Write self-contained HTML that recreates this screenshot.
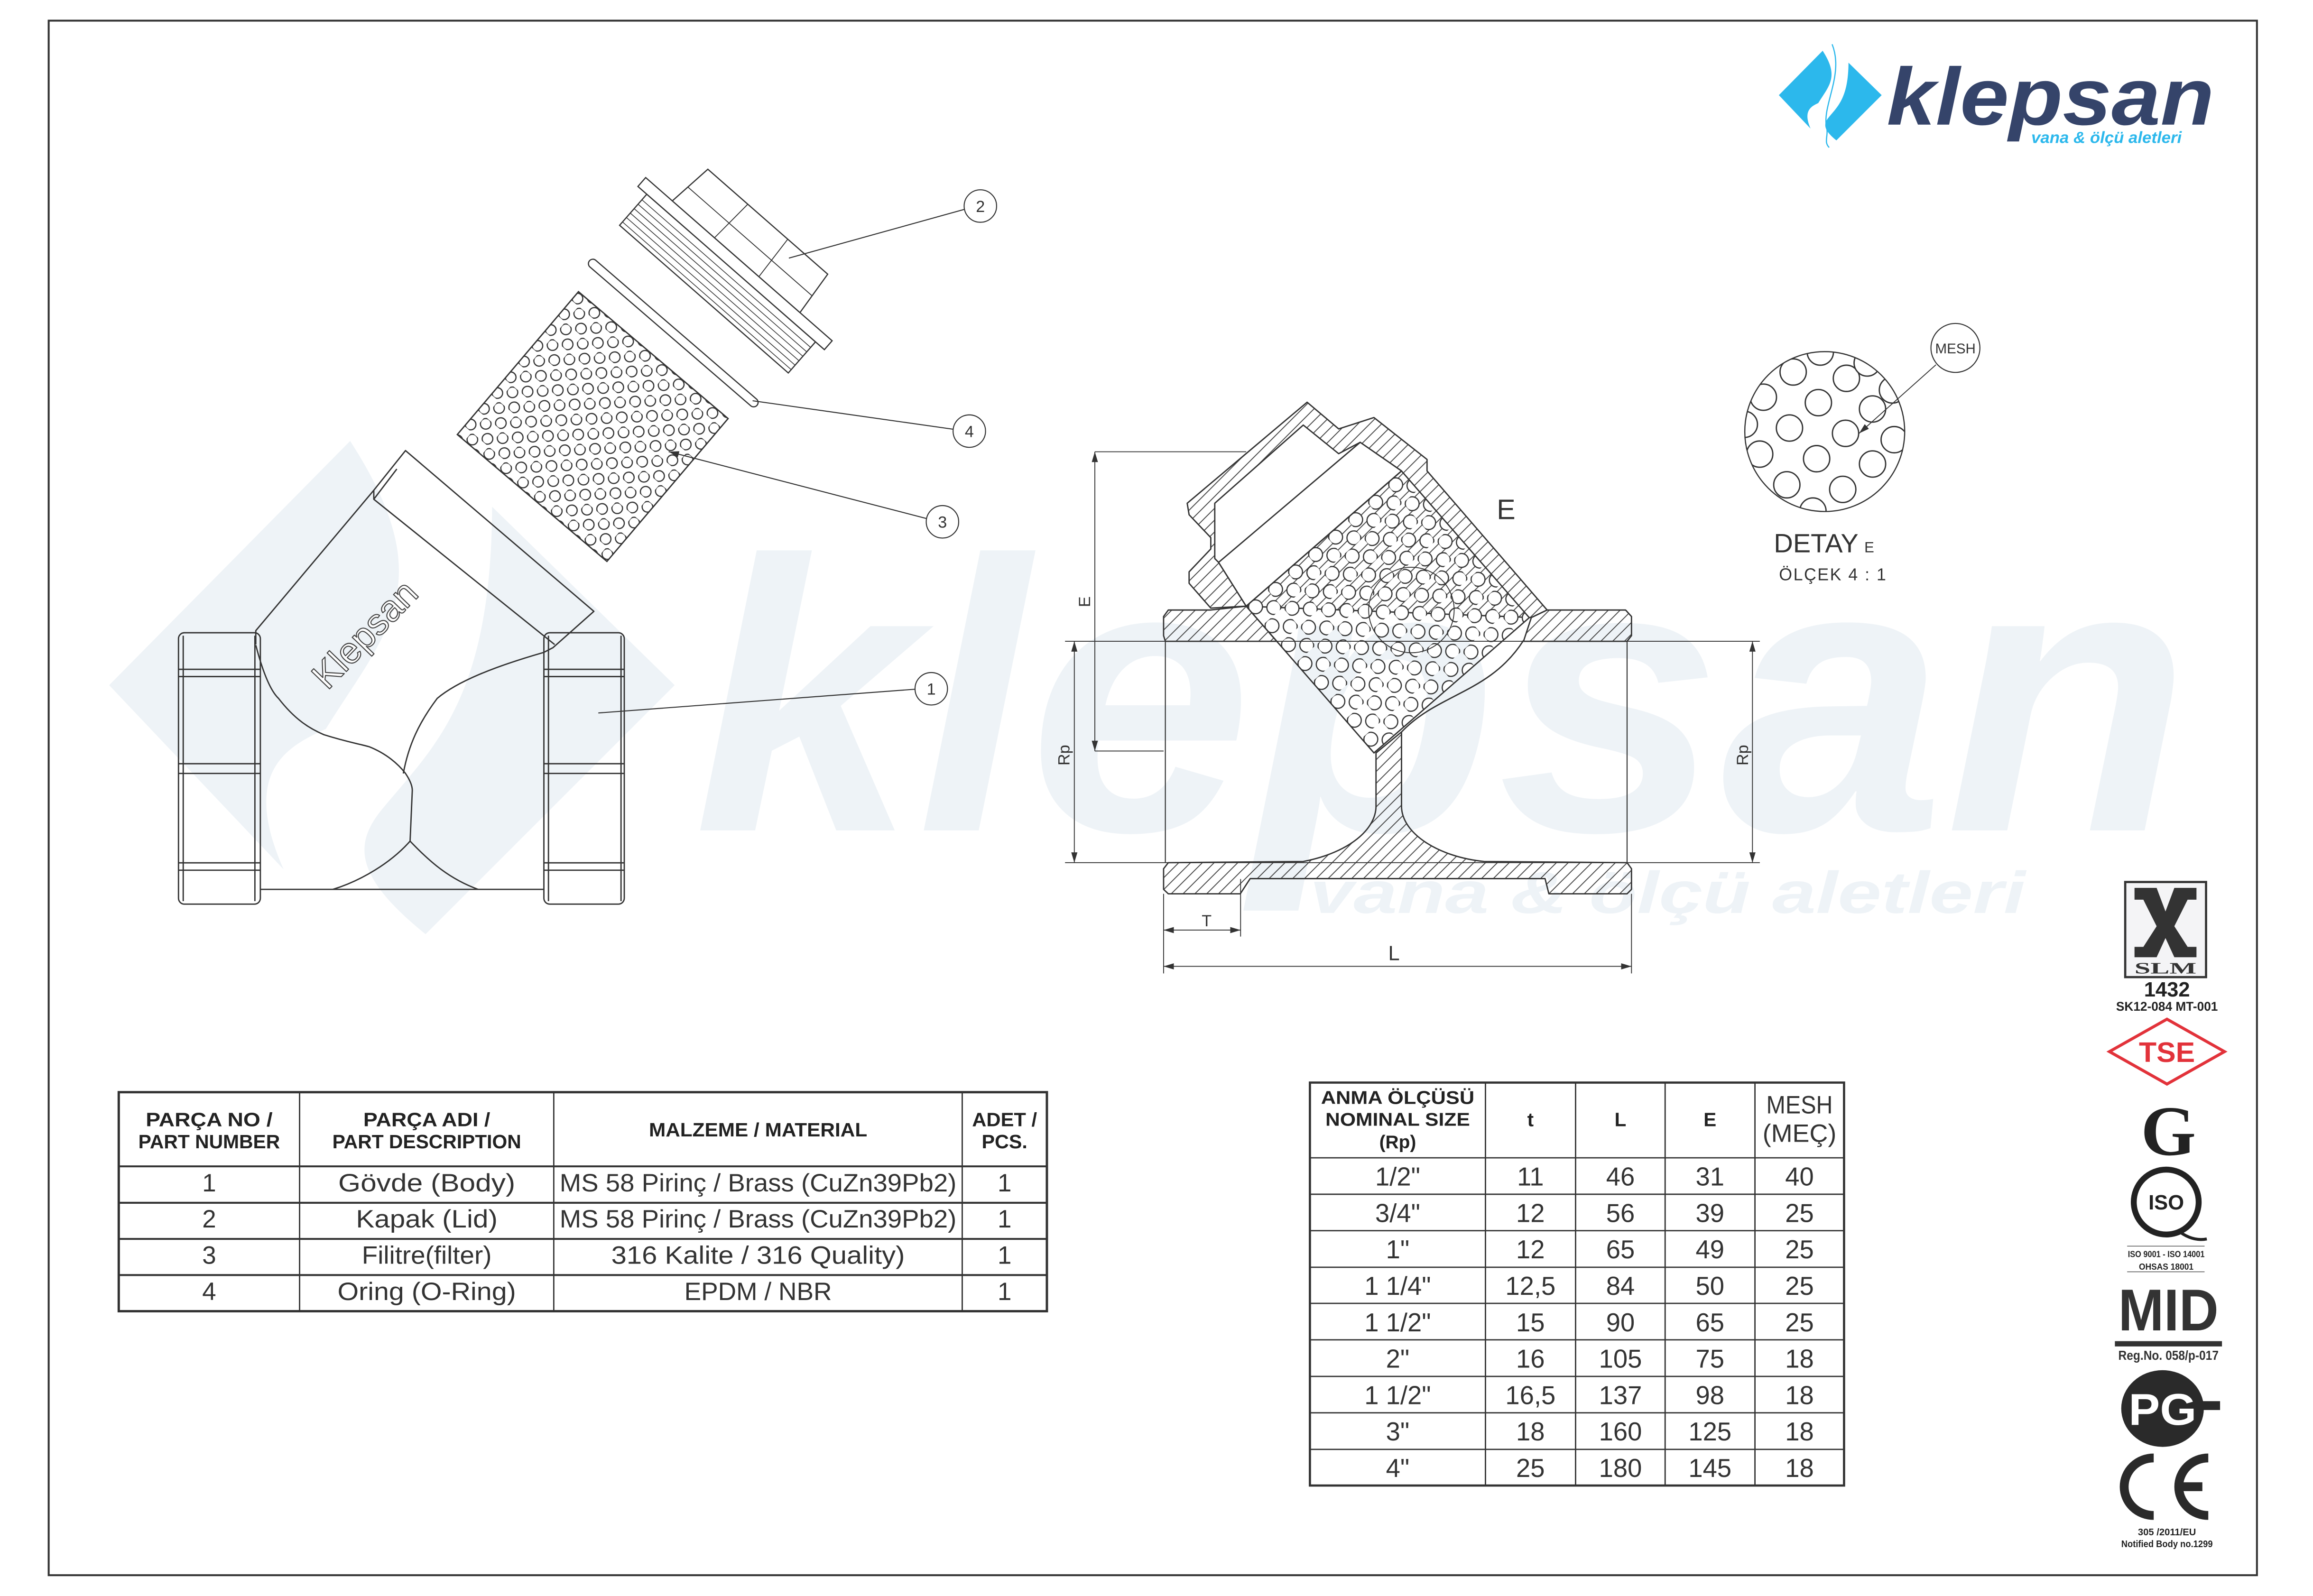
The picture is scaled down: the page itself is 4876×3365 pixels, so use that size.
<!DOCTYPE html>
<html><head><meta charset="utf-8"><style>html,body{margin:0;padding:0;background:#fff}svg{display:block}</style></head>
<body>
<svg xmlns="http://www.w3.org/2000/svg" width="4876" height="3365" viewBox="0 0 1568 1082.1" font-family="Liberation Sans, sans-serif">
<defs>
<pattern id="hatch" patternUnits="userSpaceOnUse" width="8" height="8"><path d="M0,8 L8,0 M-2,2 L2,-2 M6,10 L10,6" stroke="#444" stroke-width="0.6"/></pattern>
<pattern id="holesA" patternUnits="userSpaceOnUse" width="15" height="14"><circle cx="3.5" cy="3.5" r="3.6" fill="#fff" stroke="#333" stroke-width="0.8"/><circle cx="11" cy="10.5" r="3.6" fill="#fff" stroke="#333" stroke-width="0.8"/></pattern>
<pattern id="holesB" patternUnits="userSpaceOnUse" width="18" height="17"><circle cx="4.5" cy="4.5" r="4.7" fill="#fff" stroke="#333" stroke-width="0.8"/><circle cx="13.5" cy="13" r="4.7" fill="#fff" stroke="#333" stroke-width="0.8"/></pattern>
<marker id="ar" viewBox="0 0 10 10" refX="10" refY="5" markerWidth="7" markerHeight="7" orient="auto-start-reverse" markerUnits="userSpaceOnUse"><path d="M0,2 L10,5 L0,8 Z" fill="#333"/></marker>
<clipPath id="dc"><circle cx="1237" cy="292.6" r="54.2"/></clipPath>
<g id="dia">
<path d="M1235.6,34.4 L1205.9,64.5 L1227.4,87.2 C1222,75 1228,72 1232.6,69.9 C1240,58 1247,52 1235.6,34.4 Z"/>
<path d="M1253.1,42.5 L1275.6,64.5 L1244.9,95.2 C1236,88 1236,84 1239.7,79.6 C1246,72 1253,66 1253.1,42.5 Z"/>
</g>
</defs>
<rect width="1568" height="1082.1" fill="#fff"/>

<!-- watermark -->
<g fill="#eef3f7">
<use href="#dia" transform="translate(74,299) scale(5.5) translate(-1205.9,-34.4)"/>
<text x="470" y="563" font-size="262" font-weight="bold" font-style="italic" textLength="1015" lengthAdjust="spacingAndGlyphs">klepsan</text>
<text x="888" y="619" font-size="40" font-weight="bold" font-style="italic" textLength="485" lengthAdjust="spacingAndGlyphs">vana &amp; ölçü aletleri</text>
</g>

<!-- border -->
<rect x="33" y="14" width="1497" height="1054" fill="none" stroke="#333" stroke-width="1.3"/>

<!-- logo -->
<use href="#dia" fill="#2cb8ec"/>
<path d="M1242,30 C1250,50 1236,70 1238,85 C1240,92 1236,96 1240,100" fill="none" stroke="#2cb8ec" stroke-width="0.8"/>
<text x="1279" y="84.5" font-size="55" font-weight="bold" font-style="italic" fill="#35446a" textLength="222" lengthAdjust="spacingAndGlyphs">klepsan</text>
<text x="1377" y="97" font-size="11" font-weight="bold" font-style="italic" fill="#2cb8ec" textLength="102" lengthAdjust="spacingAndGlyphs">vana &amp; ölçü aletleri</text>

<!-- ================= LEFT EXPLODED VIEW ================= -->
<g fill="none" stroke="#333" stroke-width="0.9" stroke-linejoin="round">
<rect x="121" y="429" width="55.5" height="184" rx="4"/>
<path d="M124.2,431 V611 M172.8,431 V611 M121,453.8 H176.5 M121,458.7 H176.5 M121,517.8 H176.5 M121,524.4 H176.5 M121,585 H176.5 M121,590 H176.5"/>
<rect x="368.7" y="429" width="54.5" height="184" rx="4"/>
<path d="M371.8,431 V611 M421,431 V611 M368.7,453.8 H423.2 M368.7,458.7 H423.2 M368.7,517.8 H423.2 M368.7,524.4 H423.2 M368.7,585 H423.2 M368.7,590 H423.2"/>
<path d="M176.5,603 H368.7"/>
<path d="M173.4,437 L173.4,427.6 L253.4,332.4 L274.9,305.5 L402.6,414.5 L374.9,439.1 L368.7,442.3"/>
<path d="M253.4,332.4 L253.4,338.5 L376,437 M253.4,338.5 L269,318"/>
<path d="M173.4,437.4 C178,455 183,468 188.8,473.5 C200,488 210,494 219.5,498.1 C235,503 242,504 250.3,506.3 C262,511 270,518 274.9,524.4 C278,529 279.5,533 279.5,535.9 L278,570.3 C265,585 245,597 225.7,603"/>
<path d="M278,570.3 C292,585 305,596 324.1,603"/>
<path d="M368.7,442.3 C335,452 310,462 296.4,473.5 C284,490 277,505 273.4,524.4"/>
<text x="0" y="0" font-size="25" fill="#fff" stroke="#444" stroke-width="0.7" transform="translate(253.4,436) rotate(-46)" text-anchor="middle">Klepsan</text>
</g>
<g transform="translate(401.8,289.2) rotate(40.3)">
<rect x="-66.5" y="-63.5" width="133" height="127" fill="url(#holesA)" stroke="#333" stroke-width="0.9"/>
</g>
<g transform="translate(456.4,225.8) rotate(40.8)">
<rect x="-75" y="-3" width="150" height="6" rx="3" fill="#fff" stroke="#333" stroke-width="0.8"/>
</g>
<g transform="translate(477.2,202.8) rotate(41.2)" fill="#fff" stroke="#333" stroke-width="0.8">
<rect x="-76" y="-28" width="152" height="28"/>
<path d="M-76,-23 H76 M-76,-19 H76 M-76,-15 H76 M-76,-11 H76 M-76,-7 H76 M-76,-3 H76" fill="none" stroke-width="0.5"/>
<rect x="-84" y="-36" width="168" height="8"/>
<path d="M-60,-36 L-56,-68 H52 L55,-36 Z"/>
<path d="M-22,-36 L-20,-68 M18,-36 L16,-68 M-58,-50 H54" fill="none" stroke-width="0.6"/>
</g>
<g fill="none" stroke="#333" stroke-width="0.7">
<path d="M534.8,175 L653.6,142"/>
<path d="M510.2,271.7 L646,291"/>
<path d="M453.3,306.2 L627.8,351.5" marker-start="url(#ar)"/>
<path d="M405.6,483.4 L620.3,467.3"/>
<circle cx="664.6" cy="139.7" r="11" fill="#fff"/>
<circle cx="657.1" cy="292.3" r="11" fill="#fff"/>
<circle cx="638.9" cy="353.8" r="11" fill="#fff"/>
<circle cx="631.3" cy="467" r="11" fill="#fff"/>
</g>
<g font-size="11" fill="#333" text-anchor="middle">
<text x="664.6" y="143.7">2</text><text x="657.1" y="296.3">4</text><text x="638.9" y="357.8">3</text><text x="631.3" y="471">1</text>
</g>

<!-- ================= SECTION VIEW ================= -->
<g stroke="#333" stroke-width="0.9" stroke-linejoin="round">
<path d="M820.8,412.3 L806.1,395.5 L806.1,387.7 L820.8,372.2 L820.8,364.5 L806.1,349 L804.8,341.2 L886.1,272.7 L907.5,290.8 L931.4,283.1 L967.4,311.5 L967.4,319.3 L1048.8,413.6 L1038.1,418.7 L844.8,411 Z" fill="url(#hatch)"/>
<path d="M823.5,378.7 L823.5,341.2 L883.5,288.2 L907.5,307.6 L922.1,299.9 L950.1,319.3 L844.8,411 L826.1,381.3 Z" fill="#fff"/>
<path d="M826.1,381.3 L922.1,299.9 L950.1,319.3 L844.8,411 Z" fill="#fff"/>
<path d="M788.8,418 L792,413.6 L820.8,413.6 L844.8,411 L865.5,434.8 L790,434.8 L788.8,431 Z" fill="url(#hatch)"/>
<path d="M1048.8,413.6 L1102,413.6 L1106,418 L1106,431 L1103,434.8 L1032.8,434.8 L1038.1,418.7 Z" fill="url(#hatch)"/>
<path d="M788.8,589 L792,584.9 L883.5,584.1 C915,578 932.8,562 932.8,546.6 L932.8,510.5 L950.1,496.3 L950.1,546.6 C950.1,565 975,581 1006.1,584.1 L1103,584.9 L1106,589 L1106,603 L1103,606 L1050,606 L1047.4,595.7 L847.5,595.7 L840.8,606 L792,606 L788.8,603 Z" fill="url(#hatch)"/>
<g transform="translate(844.8,411) rotate(-41.05)">
<rect x="0" y="0" width="139.6" height="131.9" fill="url(#holesB)"/>
</g>
<path d="M1032.8,434.2 C1010,470 975,470 950.1,496.3" fill="none"/>
<circle cx="956.8" cy="413.6" r="29" fill="none" stroke-width="0.6"/>
<path d="M790,434.8 V584.9 M1103,434.8 V584.9" fill="none" stroke-width="0.7"/>
</g>
<g fill="none" stroke="#333" stroke-width="0.6">
<path d="M742.2,306.3 H844.8 M742.2,509.2 H788.8"/>
<path d="M742.2,306.3 V509.2" marker-start="url(#ar)" marker-end="url(#ar)"/>
<path d="M722,434.8 H1193 M722,584.9 H1193"/>
<path d="M728.3,434.8 V584.9" marker-start="url(#ar)" marker-end="url(#ar)"/>
<path d="M1188,434.8 V584.9" marker-start="url(#ar)" marker-end="url(#ar)"/>
<path d="M788.8,606 V660 M1106,606 V660 M841,596 V635"/>
<path d="M788.8,630.6 H841" marker-start="url(#ar)" marker-end="url(#ar)"/>
<path d="M788.8,655.2 H1106" marker-start="url(#ar)" marker-end="url(#ar)"/>
</g>
<g fill="#333" font-size="11">
<text x="0" y="0" transform="translate(739,408) rotate(-90)" text-anchor="middle">E</text>
<text x="0" y="0" transform="translate(725,512) rotate(-90)" text-anchor="middle">Rp</text>
<text x="0" y="0" transform="translate(1185,512) rotate(-90)" text-anchor="middle">Rp</text>
<text x="818" y="628" text-anchor="middle">T</text>
<text x="945" y="651" font-size="14" text-anchor="middle">L</text>
<text x="1021" y="352" font-size="19" text-anchor="middle">E</text>
</g>

<!-- ================= DETAIL ================= -->
<g clip-path="url(#dc)" fill="#fff" stroke="#333" stroke-width="0.9">
<g transform="translate(1237,292.6)">
<circle cx="-41.6" cy="-23.3" r="8.9"/><circle cx="-21.4" cy="-40.4" r="8.9"/><circle cx="14.7" cy="-36.1" r="8.9"/>
<circle cx="-4.3" cy="-19.6" r="8.9"/><circle cx="32.4" cy="-15.3" r="8.9"/><circle cx="-23.9" cy="-2.4" r="8.9"/>
<circle cx="14.1" cy="1.2" r="8.9"/><circle cx="-44.1" cy="15.3" r="8.9"/><circle cx="-5.5" cy="18.4" r="8.9"/>
<circle cx="32.4" cy="22" r="8.9"/><circle cx="-25.7" cy="36.1" r="8.9"/><circle cx="12.2" cy="39.2" r="8.9"/>
<circle cx="47.1" cy="5.5" r="8.9"/><circle cx="-3" cy="-53.9" r="8.9"/><circle cx="28.8" cy="-46.5" r="8.9"/>
<circle cx="45.9" cy="-28.2" r="8.9"/><circle cx="-8" cy="53.9" r="8.9"/><circle cx="-54.5" cy="-4.9" r="8.9"/>
</g>
</g>
<circle cx="1237" cy="292.6" r="54.2" fill="none" stroke="#333" stroke-width="0.8"/>
<path d="M1312.4,247.3 L1260.3,293.8" fill="none" stroke="#333" stroke-width="0.6" marker-end="url(#ar)"/>
<circle cx="1325.6" cy="235.9" r="16.6" fill="#fff" stroke="#333" stroke-width="0.7"/>
<text x="1325.6" y="239.5" font-size="9.5" fill="#333" text-anchor="middle">MESH</text>
<text x="1202.5" y="374.4" font-size="18" fill="#333">DETAY<tspan font-size="10" dx="4">E</tspan></text>
<text x="1206" y="393.5" font-size="11.5" fill="#333" letter-spacing="0.8">ÖLÇEK  4 : 1</text>

<!-- ================= TABLE 1 ================= -->
<g stroke="#333" fill="none">
<rect x="80.5" y="740.5" width="629.2" height="148.5" fill="#fff" stroke-width="1.6"/>
<path d="M203.1,740.5 V889 M375.4,740.5 V889 M652.3,740.5 V889" stroke-width="0.9"/>
<path d="M80.5,790.8 H709.7 M80.5,815.5 H709.7 M80.5,840 H709.7 M80.5,864.5 H709.7" stroke-width="1.3"/>
</g>
<g fill="#222" text-anchor="middle" font-weight="bold" font-size="13">
<text x="141.8" y="763.6" textLength="86" lengthAdjust="spacingAndGlyphs">PARÇA NO /</text>
<text x="141.8" y="778.5" textLength="96" lengthAdjust="spacingAndGlyphs">PART NUMBER</text>
<text x="289.3" y="763.6" textLength="86" lengthAdjust="spacingAndGlyphs">PARÇA ADI /</text>
<text x="289.3" y="778.5" textLength="128" lengthAdjust="spacingAndGlyphs">PART DESCRIPTION</text>
<text x="513.9" y="770.5" textLength="148" lengthAdjust="spacingAndGlyphs">MALZEME / MATERIAL</text>
<text x="681" y="763.6" textLength="44" lengthAdjust="spacingAndGlyphs">ADET /</text>
<text x="681" y="778.5" textLength="31" lengthAdjust="spacingAndGlyphs">PCS.</text>
</g>
<g fill="#333" text-anchor="middle" font-size="17">
<text x="141.8" y="807.8">1</text><text x="289.3" y="807.8" textLength="120" lengthAdjust="spacingAndGlyphs">Gövde (Body)</text><text x="513.9" y="807.8" textLength="269" lengthAdjust="spacingAndGlyphs">MS 58 Pirinç / Brass (CuZn39Pb2)</text><text x="681" y="807.8">1</text>
<text x="141.8" y="832.3">2</text><text x="289.3" y="832.3" textLength="96" lengthAdjust="spacingAndGlyphs">Kapak (Lid)</text><text x="513.9" y="832.3" textLength="269" lengthAdjust="spacingAndGlyphs">MS 58 Pirinç / Brass (CuZn39Pb2)</text><text x="681" y="832.3">1</text>
<text x="141.8" y="856.9">3</text><text x="289.3" y="856.9" textLength="88" lengthAdjust="spacingAndGlyphs">Filitre(filter)</text><text x="513.9" y="856.9" textLength="199" lengthAdjust="spacingAndGlyphs">316 Kalite / 316 Quality)</text><text x="681" y="856.9">1</text>
<text x="141.8" y="881.4">4</text><text x="289.3" y="881.4" textLength="121" lengthAdjust="spacingAndGlyphs">Oring (O-Ring)</text><text x="513.9" y="881.4" textLength="100" lengthAdjust="spacingAndGlyphs">EPDM / NBR</text><text x="681" y="881.4">1</text>
</g>

<!-- ================= TABLE 2 ================= -->
<g stroke="#333" fill="none">
<rect x="888" y="734" width="362.1" height="273.2" fill="#fff" stroke-width="1.5"/>
<path d="M1007,734 V1007.2 M1068.1,734 V1007.2 M1128.8,734 V1007.2 M1189.7,734 V1007.2" stroke-width="0.9"/>
<path d="M888,785 H1250 M888,809.7 H1250 M888,834.4 H1250 M888,859.2 H1250 M888,883.7 H1250 M888,908.4 H1250 M888,933.2 H1250 M888,957.9 H1250 M888,982.7 H1250" stroke-width="0.9"/>
</g>
<g fill="#222" text-anchor="middle" font-weight="bold" font-size="12.5">
<text x="947.5" y="748.4" textLength="104" lengthAdjust="spacingAndGlyphs">ANMA ÖLÇÜSÜ</text>
<text x="947.5" y="763.2" textLength="98" lengthAdjust="spacingAndGlyphs">NOMINAL SIZE</text>
<text x="947.5" y="778.5">(Rp)</text>
<text x="1037.5" y="763.5" font-size="13">t</text>
<text x="1098.5" y="763.5" font-size="13">L</text>
<text x="1159.2" y="763.5" font-size="13">E</text>
</g>
<g fill="#333" text-anchor="middle" font-size="17">
<text x="1219.9" y="754.9" textLength="45" lengthAdjust="spacingAndGlyphs">MESH</text>
<text x="1219.9" y="774.2" textLength="50" lengthAdjust="spacingAndGlyphs">(MEÇ)</text>
</g>
<g fill="#333" text-anchor="middle" font-size="17.5">
<text x="947.5" y="803.8">1/2"</text><text x="1037.5" y="803.8">11</text><text x="1098.5" y="803.8">46</text><text x="1159.2" y="803.8">31</text><text x="1219.9" y="803.8">40</text>
<text x="947.5" y="828.5">3/4"</text><text x="1037.5" y="828.5">12</text><text x="1098.5" y="828.5">56</text><text x="1159.2" y="828.5">39</text><text x="1219.9" y="828.5">25</text>
<text x="947.5" y="853.2">1"</text><text x="1037.5" y="853.2">12</text><text x="1098.5" y="853.2">65</text><text x="1159.2" y="853.2">49</text><text x="1219.9" y="853.2">25</text>
<text x="947.5" y="877.9">1 1/4"</text><text x="1037.5" y="877.9">12,5</text><text x="1098.5" y="877.9">84</text><text x="1159.2" y="877.9">50</text><text x="1219.9" y="877.9">25</text>
<text x="947.5" y="902.6">1 1/2"</text><text x="1037.5" y="902.6">15</text><text x="1098.5" y="902.6">90</text><text x="1159.2" y="902.6">65</text><text x="1219.9" y="902.6">25</text>
<text x="947.5" y="927.3">2"</text><text x="1037.5" y="927.3">16</text><text x="1098.5" y="927.3">105</text><text x="1159.2" y="927.3">75</text><text x="1219.9" y="927.3">18</text>
<text x="947.5" y="952">1 1/2"</text><text x="1037.5" y="952">16,5</text><text x="1098.5" y="952">137</text><text x="1159.2" y="952">98</text><text x="1219.9" y="952">18</text>
<text x="947.5" y="976.7">3"</text><text x="1037.5" y="976.7">18</text><text x="1098.5" y="976.7">160</text><text x="1159.2" y="976.7">125</text><text x="1219.9" y="976.7">18</text>
<text x="947.5" y="1001.4">4"</text><text x="1037.5" y="1001.4">25</text><text x="1098.5" y="1001.4">180</text><text x="1159.2" y="1001.4">145</text><text x="1219.9" y="1001.4">18</text>
</g>

<!-- ================= CERTIFICATIONS ================= -->
<rect x="1440.7" y="598" width="54.8" height="64.5" fill="#f4f4f6" stroke="#333" stroke-width="1.5"/>
<path d="M1447,602 H1462 L1468,618 L1474,602 H1489 V610 H1483 L1474,628 L1483,642 H1489 V649 H1474 L1468,636 L1462,649 H1447 V642 H1453 L1462,628 L1453,610 H1447 Z" fill="#333"/>
<text x="1468" y="660" font-family="Liberation Serif, serif" font-weight="bold" font-size="11" fill="#333" text-anchor="middle" textLength="42" lengthAdjust="spacingAndGlyphs">SLM</text>
<text x="1469" y="675.7" font-weight="bold" font-size="14" fill="#222" text-anchor="middle">1432</text>
<text x="1469" y="685.3" font-weight="bold" font-size="8.5" fill="#222" text-anchor="middle" textLength="69" lengthAdjust="spacingAndGlyphs">SK12-084 MT-001</text>
<path d="M1430,713 L1469,691 L1508,713 L1469,735 Z" fill="none" stroke="#e2323a" stroke-width="2"/>
<text x="1469" y="720" font-weight="bold" font-size="19" fill="#e2323a" text-anchor="middle" textLength="38" lengthAdjust="spacingAndGlyphs">TSE</text>
<text x="1470" y="783" font-family="Liberation Serif, serif" font-weight="bold" font-size="48" fill="#222" text-anchor="middle">G</text>
<ellipse cx="1468.5" cy="815" rx="22" ry="22" fill="none" stroke="#222" stroke-width="4"/>
<path d="M1476,834 Q1486,842 1496,840" fill="none" stroke="#222" stroke-width="2"/>
<text x="1468.5" y="820" font-weight="bold" font-size="14" fill="#222" text-anchor="middle">ISO</text>
<path d="M1442,844.9 H1494.5 M1442,862.3 H1494.5" stroke="#333" stroke-width="0.4"/>
<text x="1468.5" y="852.4" font-weight="bold" font-size="6" fill="#222" text-anchor="middle" textLength="52" lengthAdjust="spacingAndGlyphs">ISO 9001 - ISO 14001</text>
<text x="1468.5" y="860.8" font-weight="bold" font-size="6" fill="#222" text-anchor="middle" textLength="37" lengthAdjust="spacingAndGlyphs">OHSAS 18001</text>
<text x="1470" y="902" font-weight="bold" font-size="40" fill="#333" text-anchor="middle" textLength="68" lengthAdjust="spacingAndGlyphs">MID</text>
<rect x="1433.7" y="909.3" width="72.6" height="3.6" fill="#333"/>
<text x="1470" y="921.9" font-weight="bold" font-size="9" fill="#333" text-anchor="middle" textLength="68" lengthAdjust="spacingAndGlyphs">Reg.No. 058/p-017</text>
<ellipse cx="1466" cy="955" rx="28" ry="26" fill="#2a2a2a"/>
<rect x="1490" y="950" width="15" height="6" fill="#2a2a2a"/>
<text x="1466" y="966" font-weight="bold" font-size="30" fill="#fff" text-anchor="middle" textLength="46" lengthAdjust="spacingAndGlyphs">PG</text>
<path d="M1460,988.5 A20 19.5 0 0 0 1460,1027.5 M1497,988.5 A20 19.5 0 0 0 1497,1027.5 M1478,1008 H1493" fill="none" stroke="#2a2a2a" stroke-width="6"/>
<text x="1469" y="1041" font-weight="bold" font-size="6.5" fill="#222" text-anchor="middle">305 /2011/EU</text>
<text x="1469" y="1049" font-weight="bold" font-size="6.5" fill="#222" text-anchor="middle" textLength="62" lengthAdjust="spacingAndGlyphs">Notified Body no.1299</text>
</svg>
</body></html>
